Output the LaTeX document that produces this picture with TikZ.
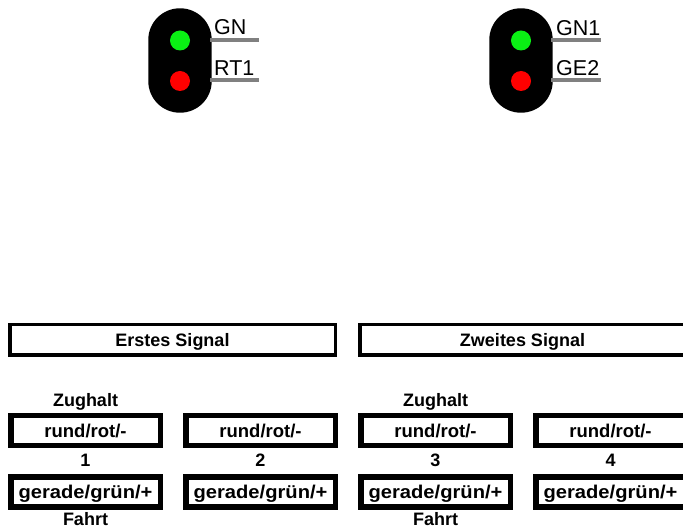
\documentclass[tikz,border=0pt]{standalone}
\usepackage{fontspec}
\setmainfont{Liberation Sans}
\definecolor{lampgreen}{RGB}{10,240,20}
\definecolor{lampred}{RGB}{255,0,0}
\definecolor{termgray}{RGB}{128,128,128}
\begin{document}
\begin{tikzpicture}[x=1pt,y=-1pt,
  body/.style={fill=black, rounded corners=31.5pt, minimum width=63.4pt, minimum height=104.4pt, inner sep=0pt},
  lampg/.style={circle, fill=lampgreen, minimum size=20pt, inner sep=0pt},
  lampr/.style={circle, fill=lampred, minimum size=20pt, inner sep=0pt},
  term/.style={draw=termgray, line width=3.5pt},
  termlbl/.style={anchor=base west, inner sep=0pt, font=\fontsize{21.5}{24}\selectfont},
  titlebox/.style={draw, line width=3.5pt, minimum width=325.5pt, minimum height=30.5pt, inner sep=0pt, font=\bfseries\fontsize{18}{20}\selectfont, text height=13pt, text depth=0pt},
  cellbox/.style={draw, line width=5.5pt, minimum width=149.5pt, minimum height=30pt, inner sep=0pt, font=\bfseries\fontsize{18.5}{20}\selectfont, text height=13pt, text depth=0pt},
  lbl/.style={anchor=base, inner sep=0pt, font=\bfseries\fontsize{18}{20}\selectfont}
]
\useasboundingbox (0,0) rectangle (683,529);

% first signal
\node[body] (sigA) at (180,60.5) {};
\node[lampg] (sigAg) at (180,40.5) {};
\node[lampr] (sigAr) at (180,81) {};
\coordinate (tAgs) at (210,40);
\coordinate (tAge) at (259,40);
\coordinate (tArs) at (210,80);
\coordinate (tAre) at (259,80);
\draw[term] (tAgs) -- (tAge);
\draw[term] (tArs) -- (tAre);
\node[termlbl] (lAg) at (214,35) {GN};
\node[termlbl] (lAr) at (214,76) {RT1};

% second signal
\node[body] (sigB) at (521,60.5) {};
\node[lampg] (sigBg) at (521,40.5) {};
\node[lampr] (sigBr) at (521,81) {};
\coordinate (tBgs) at (551,40);
\coordinate (tBge) at (601,40);
\coordinate (tBrs) at (551,80);
\coordinate (tBre) at (601,80);
\draw[term] (tBgs) -- (tBge);
\draw[term] (tBrs) -- (tBre);
\node[termlbl] (lBg) at (556,36) {GN1};
\node[termlbl] (lBr) at (556,76) {GE2};

% title boxes
\node[titlebox] (t1) at (172.5,340) {Erstes Signal};
\node[titlebox] (t2) at (522.5,340) {Zweites Signal};

% cells
\node[cellbox] (r1) at (85.5,430.5) {rund/rot/-};
\node[cellbox] (r2) at (260.5,430.5) {rund/rot/-};
\node[cellbox] (r3) at (435.5,430.5) {rund/rot/-};
\node[cellbox] (r4) at (610.5,430.5) {rund/rot/-};
\node[cellbox] (g1) at (85.5,492) {\scalebox{1.09}[1]{gerade/grün/+}};
\node[cellbox] (g2) at (260.5,492) {\scalebox{1.09}[1]{gerade/grün/+}};
\node[cellbox] (g3) at (435.5,492) {\scalebox{1.09}[1]{gerade/grün/+}};
\node[cellbox] (g4) at (610.5,492) {\scalebox{1.09}[1]{gerade/grün/+}};

% labels
\node[lbl] (z1) at (85.5,406.5) {Zughalt};
\node[lbl] (z3) at (435.5,406.5) {Zughalt};
\node[lbl] (n1) at (85.5,466.5) {1};
\node[lbl] (n2) at (260.5,466.5) {2};
\node[lbl] (n3) at (435.5,466.5) {3};
\node[lbl] (n4) at (610.5,466.5) {4};
\node[lbl] (f1) at (85.5,525) {Fahrt};
\node[lbl] (f3) at (435.5,525) {Fahrt};
\end{tikzpicture}
\end{document}
